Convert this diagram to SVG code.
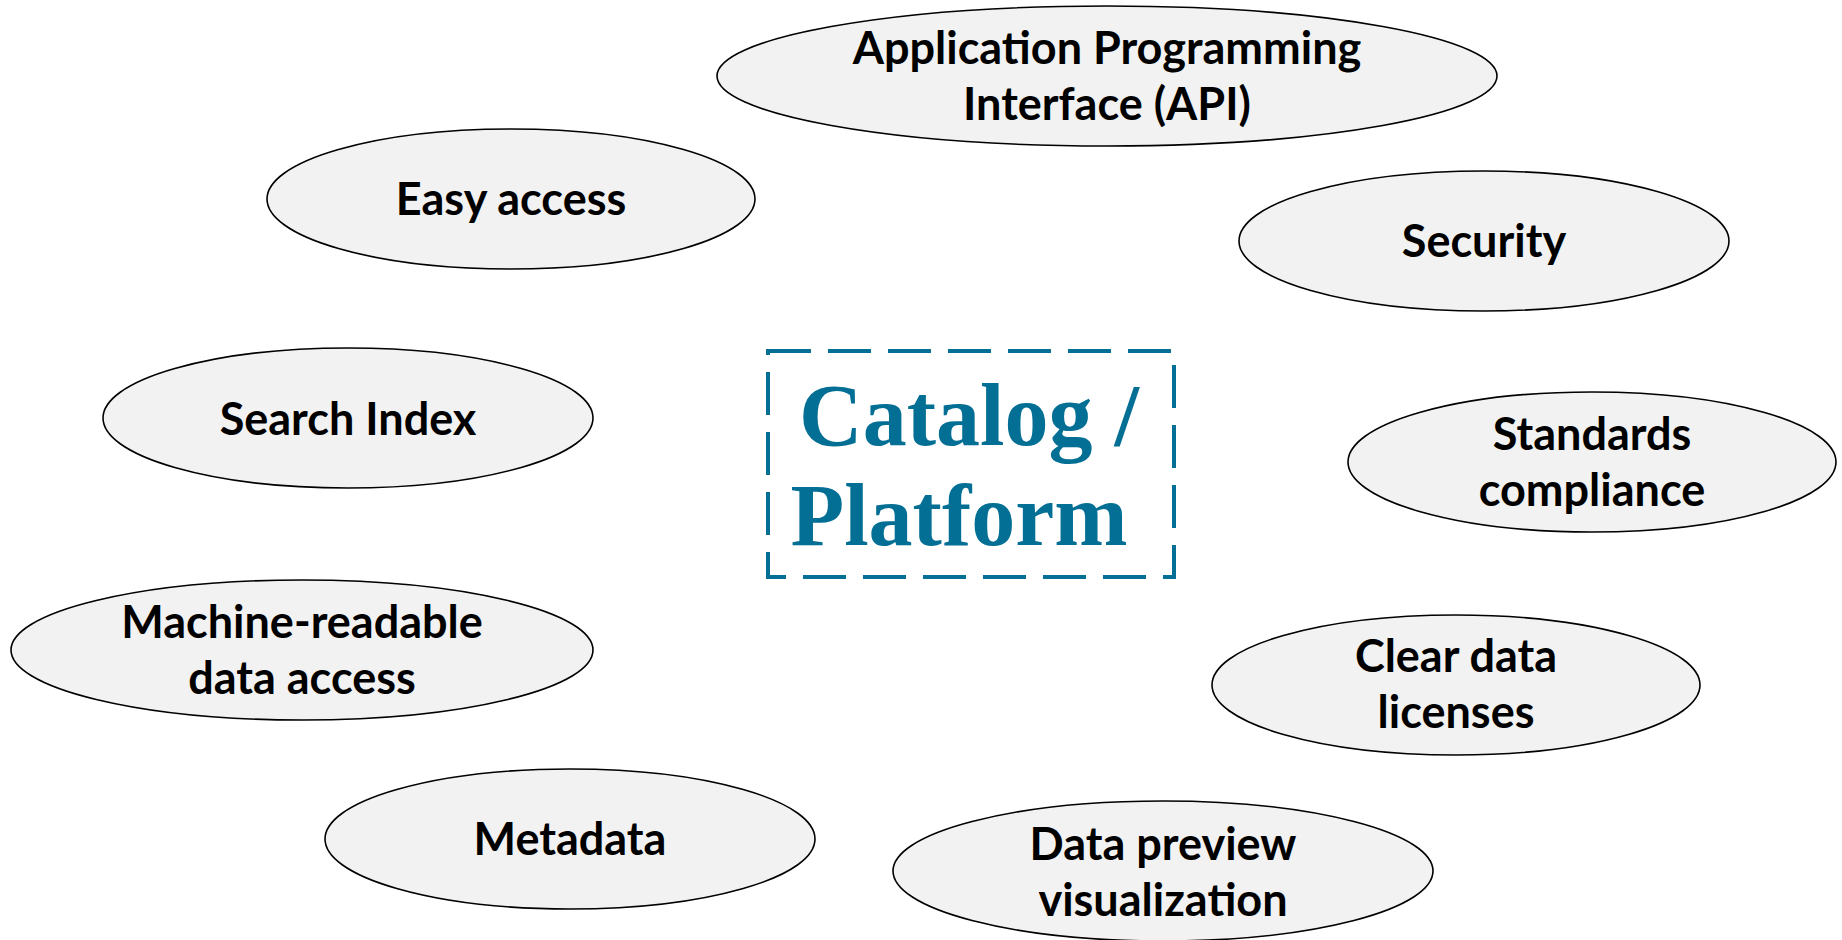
<svg xmlns="http://www.w3.org/2000/svg" width="1842" height="940" viewBox="0 0 1842 940">
<style>
.node ellipse{fill:#f2f2f2;stroke:#000;stroke-width:1.6}
.node text{font-family:Lato,"Liberation Sans",sans-serif;font-weight:bold;font-size:45px;fill:#000;text-anchor:middle}
.center text{font-family:"Liberation Serif","DejaVu Serif",serif;font-weight:bold;font-size:88px;fill:#046f94;text-anchor:middle}
</style>
<rect width="1842" height="940" fill="#fff"/>
<g id="connectors"></g>
<g id="catalog" class="center">
<rect x="768" y="351" width="406" height="226" fill="none" stroke="#046f94" stroke-width="4" stroke-dasharray="43,17"/>
<text x="969" y="445">Catalog /</text>
<text x="959" y="545">Platform</text>
</g>
<g id="api" class="node"><ellipse cx="1107" cy="76" rx="390" ry="70"/><text x="1107" y="64">Application Programming</text><text x="1107" y="120">Interface (API)</text></g>
<g id="easy-access" class="node"><ellipse cx="511" cy="199" rx="244" ry="70"/><text x="511" y="215">Easy access</text></g>
<g id="security" class="node"><ellipse cx="1484" cy="241" rx="245" ry="70"/><text x="1484" y="257">Security</text></g>
<g id="search-index" class="node"><ellipse cx="348" cy="418" rx="245" ry="70"/><text x="348" y="435">Search Index</text></g>
<g id="standards" class="node"><ellipse cx="1592" cy="462" rx="244" ry="70"/><text x="1592" y="450">Standards</text><text x="1592" y="506">compliance</text></g>
<g id="machine-readable" class="node"><ellipse cx="302" cy="650" rx="291" ry="70"/><text x="302" y="638">Machine-readable</text><text x="302" y="694">data access</text></g>
<g id="licenses" class="node"><ellipse cx="1456" cy="685" rx="244" ry="70"/><text x="1456" y="672">Clear data</text><text x="1456" y="728">licenses</text></g>
<g id="metadata" class="node"><ellipse cx="570" cy="839" rx="245" ry="70"/><text x="570" y="855">Metadata</text></g>
<g id="preview" class="node"><ellipse cx="1163" cy="871" rx="270" ry="70"/><text x="1163" y="860">Data preview</text><text x="1163" y="916">visualization</text></g>
</svg>
